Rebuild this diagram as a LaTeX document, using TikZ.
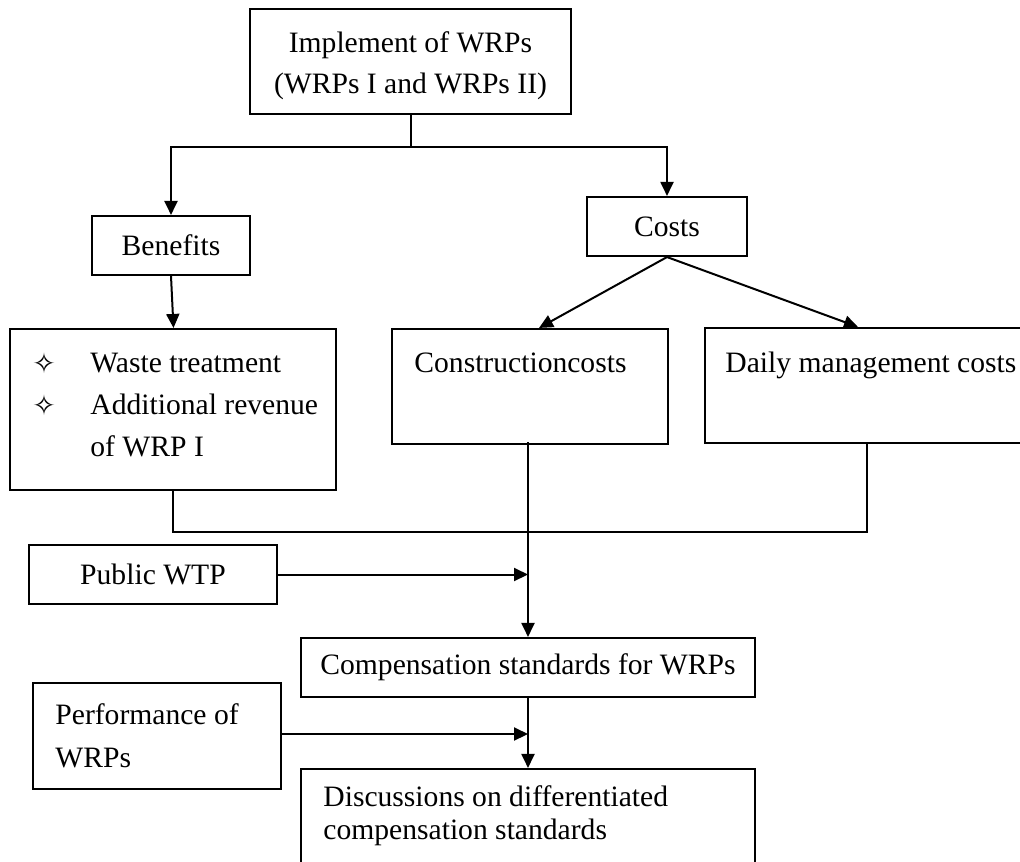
\documentclass[tikz,border=0pt]{standalone}
\usepackage{fontspec}
\setmainfont{Liberation Serif}
\newfontfamily\symfont{DejaVu Sans}
\usetikzlibrary{arrows.meta,calc}
\newcommand{\fs}{\fontsize{14.8}{21}\selectfont}
\begin{document}
\begin{tikzpicture}[x=0.5pt,y=-0.5pt,
  box/.style={draw,line width=1.05pt,rectangle,inner sep=0pt,font=\fs},
  txt/.style={inner sep=0pt,anchor=base west,font=\fs},
  star/.style={inner sep=0pt,anchor=base,font=\symfont\fontsize{14}{14}\selectfont},
  conn/.style={line width=1pt},
  arr/.style={conn,-{Triangle[length=7pt,width=6.5pt]}}]
\useasboundingbox (0,0) rectangle (1020,861);
\clip (0,0) rectangle (1020,861);
% boxes
\node[box,minimum width=160.5pt,minimum height=52.5pt] (top) at (410.5,61.5) {};
\node[box,minimum width=79pt,minimum height=29.5pt] (ben) at (171,245.5) {Benefits};
\node[box,minimum width=80pt,minimum height=29.5pt] (cost) at (667,226.5) {Costs};
\node[box,minimum width=163pt,minimum height=80.5pt] (bl) at (173,409.5) {};
\node[box,minimum width=138pt,minimum height=57.5pt] (cons) at (530,386.5) {};
\node[box,minimum width=167.5pt,minimum height=57.5pt] (daily) at (872.5,385.5) {};
\node[box,minimum width=124pt,minimum height=29.5pt] (wtp) at (153,574.5) {Public WTP};
\node[box,minimum width=227pt,minimum height=29.5pt] (comp) at (528,667.5) {Compensation standards for WRPs};
\node[box,minimum width=124pt,minimum height=53pt] (perf) at (157,736) {};
\node[box,minimum width=227pt,minimum height=60.5pt] (disc) at (528,829.5) {};
% texts
\node[txt,anchor=base] (topA) at (410.5,53) {Implement of WRPs};
\node[txt,anchor=base] (topB) at (410.5,94) {(WRPs I and WRPs II)};
\node[star] (s1) at (44,373) {✧};
\node[star] (s2) at (44,415) {✧};
\node[txt] (w1) at (90,372) {Waste treatment};
\node[txt] (w2) at (90,414) {Additional revenue};
\node[txt] (w3) at (90,456) {of WRP I};
\node[txt] (ct) at (414,372) {Constructioncosts};
\node[txt] (dt) at (725,372) {Daily management costs};
\node[txt] (p1) at (55,724) {Performance of};
\node[txt] (p2) at (55,767) {WRPs};
\node[txt] (d1) at (323,806) {Discussions on differentiated};
\node[txt] (d2) at (323,839) {compensation standards};
% connectors
\coordinate (j) at ($(top.south)+(0,32)$);
\draw[conn] (top.south) -- (j);
\draw[arr] (j) -| (ben.north);
\draw[arr] (j) -| (cost.north);
\draw[arr] (ben.south) -- ($(bl.north)+(0.5,0)$);
\draw[arr] (cost.south) -- ($(cons.north)+(9,0)$);
\draw[arr] (cost.south) -- ($(daily.north west)+(154,0)$);
\coordinate (dj) at ($(daily.south west)+(163,88)$);
\draw[conn] (bl.south) |- (dj) -- (dj |- daily.south);
\draw[arr] ($(comp.north |- cons.south)+(0,-3)$) -- (comp.north);
\draw[arr] (wtp.east) -- (wtp.east -| comp.north);
\draw[arr] (comp.south) -- (disc.north);
\draw[arr] ($(perf.east)+(0,-2)$) -- ($(perf.east -| comp.south)+(0,-2)$);
\end{tikzpicture}
\end{document}
